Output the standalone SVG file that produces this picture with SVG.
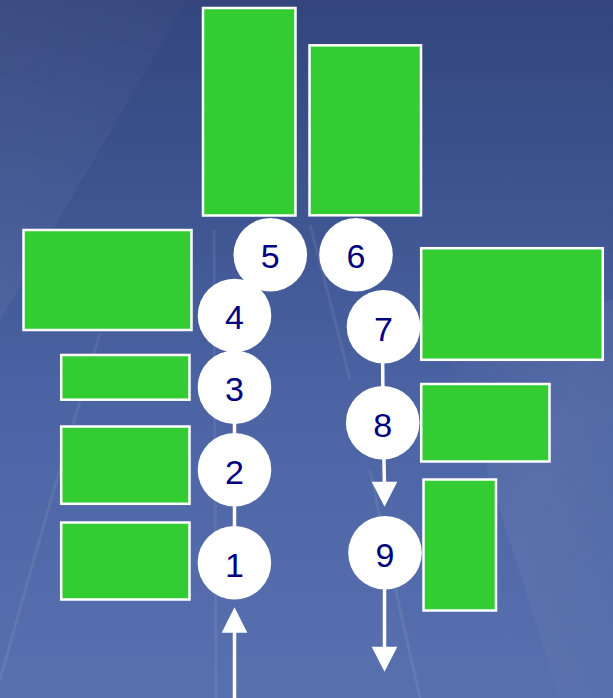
<svg xmlns="http://www.w3.org/2000/svg" width="613" height="698" viewBox="0 0 613 698">
<defs>
<linearGradient id="bg" x1="0" y1="0" x2="0" y2="1">
<stop offset="0" stop-color="#33457c"/>
<stop offset="0.3" stop-color="#3f5592"/>
<stop offset="0.6" stop-color="#4d65a5"/>
<stop offset="1" stop-color="#5870ae"/>
</linearGradient>
<linearGradient id="lgL" x1="0" y1="0" x2="1" y2="0">
<stop offset="0" stop-color="#ffffff" stop-opacity="0.07"/>
<stop offset="1" stop-color="#ffffff" stop-opacity="0.02"/>
</linearGradient>
<linearGradient id="lgR" x1="0" y1="0" x2="1" y2="1">
<stop offset="0" stop-color="#ffffff" stop-opacity="0.0"/>
<stop offset="0.5" stop-color="#ffffff" stop-opacity="0.05"/>
<stop offset="1" stop-color="#ffffff" stop-opacity="0.0"/>
</linearGradient>
<style>
.box{fill:#33cc33;stroke:#ffffff;stroke-width:2.5}
.node circle{fill:#ffffff}
.node text{font-family:"Liberation Sans",Arial,sans-serif;font-size:34px;fill:#000080;text-anchor:middle}
.edge{stroke:#ffffff;stroke-width:3.5;fill:none}
.head{fill:#ffffff}
.streak{stroke:#ffffff;stroke-opacity:0.07;stroke-width:3;fill:none}
</style>
</defs>
<g id="background">
<rect x="0" y="0" width="613" height="698" fill="url(#bg)"/>
<polygon points="0,0 187,0 -220,698 0,698" fill="url(#lgL)"/>
<polygon points="445,340 613,300 613,698 560,698" fill="url(#lgR)"/>
<path class="streak" d="M100,333 Q50,500 0,680"/>
<path class="streak" d="M214,230 L216,698"/>
<path class="streak" d="M310,225 Q330,300 350,380"/>
<path class="streak" d="M370,470 Q395,590 420,698"/>
</g>
<g id="boxes">
<rect id="boxA" class="box" x="203" y="8" width="92.5" height="207.5"/>
<rect id="boxB" class="box" x="309.5" y="45.3" width="111.5" height="170"/>
<rect id="boxC" class="box" x="23.5" y="230" width="168" height="100"/>
<rect id="boxD" class="box" x="61.2" y="355" width="128.3" height="44.7"/>
<rect id="boxE" class="box" x="61.2" y="426.5" width="128.3" height="77.3"/>
<rect id="boxF" class="box" x="61.2" y="522.5" width="128.3" height="77"/>
<rect id="boxG" class="box" x="421.2" y="248.2" width="181.6" height="111.6"/>
<rect id="boxH" class="box" x="421.2" y="384" width="128.3" height="77.5"/>
<rect id="boxI" class="box" x="423.5" y="479.5" width="72.5" height="131"/>
</g>
<g id="connectors">
<line class="edge" x1="234.5" y1="698" x2="234.5" y2="628"/>
<polygon class="head" points="234.5,607.3 221.7,632.7 247.3,632.7"/>
<line class="edge" x1="234.5" y1="562" x2="234.5" y2="315"/>
<line class="edge" x1="382.5" y1="327" x2="383" y2="422"/>
<line class="edge" x1="383.5" y1="440" x2="384.5" y2="486"/>
<polygon class="head" points="384.5,506.7 371.7,481.7 397.3,481.7"/>
<line class="edge" x1="384.5" y1="580" x2="384.5" y2="652"/>
<polygon class="head" points="384.5,671.7 371.7,646.7 397.3,646.7"/>
</g>
<g id="node1" class="node"><circle cx="234.4" cy="562.7" r="36.8"/><text x="234.4" y="576.5">1</text></g>
<g id="node2" class="node"><circle cx="234.5" cy="469.7" r="36.8"/><text x="234.5" y="483.5">2</text></g>
<g id="node3" class="node"><circle cx="234.5" cy="387.2" r="36.8"/><text x="234.5" y="401">3</text></g>
<g id="node4" class="node"><circle cx="234.5" cy="315.5" r="36.8"/><text x="234.5" y="329">4</text></g>
<g id="node5" class="node"><circle cx="270.3" cy="254.8" r="36.8"/><text x="270.3" y="268">5</text></g>
<g id="node6" class="node"><circle cx="356" cy="254.8" r="36.8"/><text x="356" y="268">6</text></g>
<g id="node7" class="node"><circle cx="383.5" cy="326.8" r="36.8"/><text x="383.5" y="340.5">7</text></g>
<g id="node8" class="node"><circle cx="382.7" cy="422.7" r="36.8"/><text x="382.7" y="436.5">8</text></g>
<g id="node9" class="node"><circle cx="385" cy="552.8" r="36.8"/><text x="385" y="566.5">9</text></g>
</svg>
